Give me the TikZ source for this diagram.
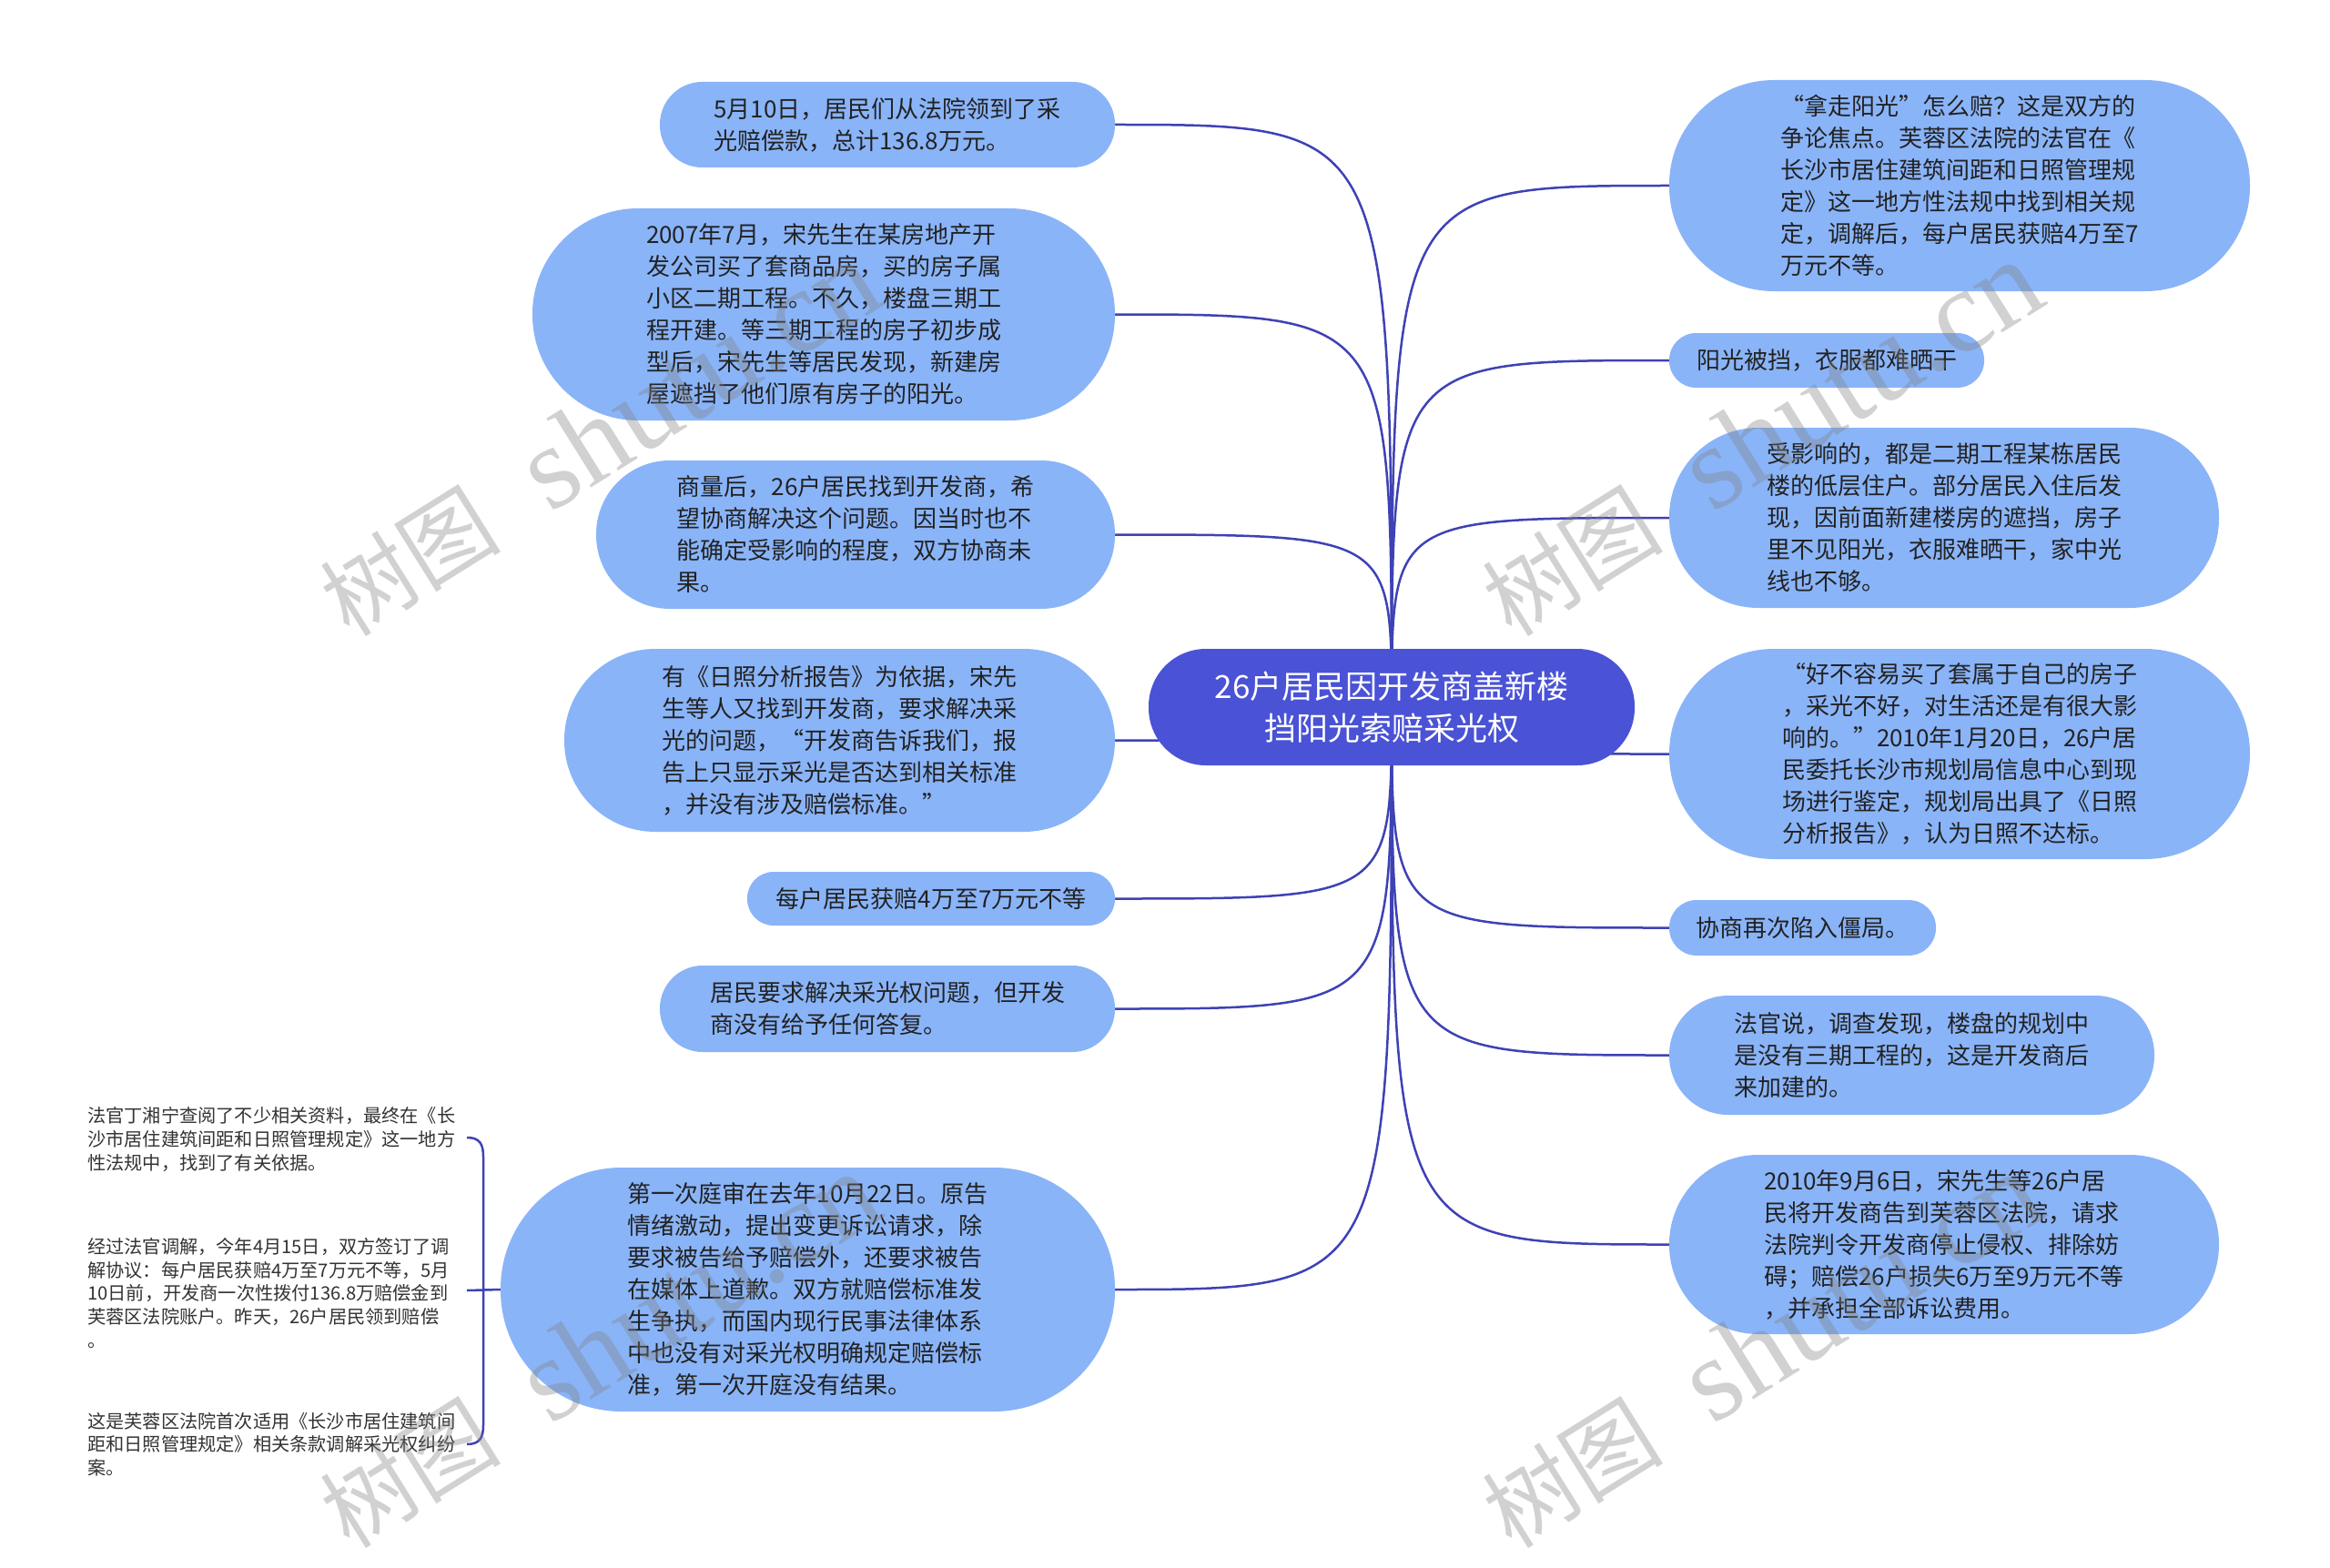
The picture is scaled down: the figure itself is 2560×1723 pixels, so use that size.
\documentclass[tikz,border=0pt]{standalone}
\usepackage{fontspec}
\setmainfont{Noto Sans CJK SC}
\newfontfamily\wmserif{Liberation Serif}
\usetikzlibrary{backgrounds}
\definecolor{nodeblue}{HTML}{8AB4F8}
\definecolor{rootblue}{HTML}{4A52D6}
\definecolor{linkblue}{HTML}{3E42B5}
\definecolor{txtdark}{HTML}{222222}
\definecolor{leaftxt}{HTML}{333333}
\newcommand{\wmtext}{树图\hspace{0.6em}{\wmserif\fontsize{130}{130}\selectfont shutu.cn}}
\begin{document}
\begin{tikzpicture}[x=1pt,y=-1pt,
  nd/.style={fill=nodeblue, text=txtdark, align=left, inner sep=0pt,
    font=\fontsize{26}{35}\selectfont},
  sz/.style n args={3}{minimum width=#1pt, minimum height=#2pt, rounded corners=#3pt},
  root/.style={fill=rootblue, text=white, align=center, inner sep=0pt,
    font=\fontsize{35}{46}\selectfont, minimum width=534pt, minimum height=128pt,
    rounded corners=63pt},
  leaf/.style={text=leaftxt, align=left, inner sep=0pt, anchor=west,
    font=\fontsize{20.2}{25.7}\selectfont},
  conn/.style={draw=linkblue, line width=2.5pt},
  wm/.style={text=gray, opacity=0.36, rotate=32, anchor=base west, inner sep=0pt,
    font=\fontsize{100}{100}\selectfont}
]
\useasboundingbox (0,0) rectangle (2560,1723);

% central
\node[root] (c) at (1529,777) {26户居民因开发商盖新楼\\挡阳光索赔采光权};

% left side
\node[nd, sz={500}{94}{46.5}] (l1) at (975,137) {5月10日，居民们从法院领到了采\\光赔偿款，总计136.8万元。};
\node[nd, sz={640}{233}{116}] (l2) at (905,345.5) {2007年7月，宋先生在某房地产开\\发公司买了套商品房，买的房子属\\小区二期工程。不久，楼盘三期工\\程开建。等三期工程的房子初步成\\型后，宋先生等居民发现，新建房\\屋遮挡了他们原有房子的阳光。};
\node[nd, sz={570}{163}{81}] (l3) at (940,587.5) {商量后，26户居民找到开发商，希\\望协商解决这个问题。因当时也不\\能确定受影响的程度，双方协商未\\果。};
\node[nd, sz={605}{201}{100}] (l4) at (922.5,813.5) {有《日照分析报告》为依据，宋先\\生等人又找到开发商，要求解决采\\光的问题，“开发商告诉我们，报\\告上只显示采光是否达到相关标准\\，并没有涉及赔偿标准。”};
\node[nd, sz={404}{59}{29}] (l5) at (1023,987.5) {每户居民获赔4万至7万元不等};
\node[nd, sz={500}{95}{47}] (l6) at (975,1108.5) {居民要求解决采光权问题，但开发\\商没有给予任何答复。};
\node[nd, sz={675}{268}{133}] (l7) at (887.5,1417) {第一次庭审在去年10月22日。原告\\情绪激动，提出变更诉讼请求，除\\要求被告给予赔偿外，还要求被告\\在媒体上道歉。双方就赔偿标准发\\生争执，而国内现行民事法律体系\\中也没有对采光权明确规定赔偿标\\准，第一次开庭没有结果。};

% right side
\node[nd, sz={638}{232}{115}] (r1) at (2153,204) {“拿走阳光”怎么赔？这是双方的\\争论焦点。芙蓉区法院的法官在《\\长沙市居住建筑间距和日照管理规\\定》这一地方性法规中找到相关规\\定，调解后，每户居民获赔4万至7\\万元不等。};
\node[nd, sz={346}{60}{29.5}] (r2) at (2007,396) {阳光被挡，衣服都难晒干};
\node[nd, sz={604}{198}{98}] (r3) at (2136,569) {受影响的，都是二期工程某栋居民\\楼的低层住户。部分居民入住后发\\现，因前面新建楼房的遮挡，房子\\里不见阳光，衣服难晒干，家中光\\线也不够。};
\node[nd, sz={638}{231}{115}] (r4) at (2153,828.5) {“好不容易买了套属于自己的房子\\，采光不好，对生活还是有很大影\\响的。”2010年1月20日，26户居\\民委托长沙市规划局信息中心到现\\场进行鉴定，规划局出具了《日照\\分析报告》，认为日照不达标。};
\node[nd, sz={293}{61}{30}] (r5) at (1980.5,1019.5) {协商再次陷入僵局。};
\node[nd, sz={533}{131}{65}] (r6) at (2100.5,1159.5) {法官说，调查发现，楼盘的规划中\\是没有三期工程的，这是开发商后\\来加建的。};
\node[nd, sz={604}{197}{98}] (r7) at (2136,1367.5) {2010年9月6日，宋先生等26户居\\民将开发商告到芙蓉区法院，请求\\法院判令开发商停止侵权、排除妨\\碍；赔偿26户损失6万至9万元不等\\，并承担全部诉讼费用。};

% leaves of l7
\node[leaf] (t1) at (96,1252) {法官丁湘宁查阅了不少相关资料，最终在《长\\沙市居住建筑间距和日照管理规定》这一地方\\性法规中，找到了有关依据。};
\node[leaf] (t2) at (96,1421) {经过法官调解，今年4月15日，双方签订了调\\解协议：每户居民获赔4万至7万元不等，5月\\10日前，开发商一次性拨付136.8万赔偿金到\\芙蓉区法院账户。昨天，26户居民领到赔偿\\。};
\node[leaf] (t3) at (96,1587) {这是芙蓉区法院首次适用《长沙市居住建筑间\\距和日照管理规定》相关条款调解采光权纠纷\\案。};

\coordinate (bt) at (513,1250);
\coordinate (bb) at (513,1587);
\coordinate (bm) at (513,1418);

\begin{scope}[on background layer]
\fill[white] (0,0) rectangle (2560,1723);
\foreach \n in {l1,l2,l3,l4,l5,l6,l7}
  \draw[conn] (c.center) .. controls (c.center |- \n.east) .. (\n.east);
\foreach \n in {r1,r2,r3,r4,r5,r6,r7}
  \draw[conn] (c.center) .. controls (c.center |- \n.west) .. (\n.west);
\end{scope}

% bracket to leaves
\draw[conn] (bt) .. controls (527,1250) and (531,1257) .. (531,1271) -- (531,1566) .. controls (531,1580) and (527,1587) .. (bb);
\draw[conn] (bm) -- (l7.west);

% watermarks
\node[wm] (w1) at (384,702) {\wmtext};
\node[wm] (w2) at (1661,702) {\wmtext};
\node[wm] (w3) at (384,1704) {\wmtext};
\node[wm] (w4) at (1661,1704) {\wmtext};
\end{tikzpicture}
\end{document}
